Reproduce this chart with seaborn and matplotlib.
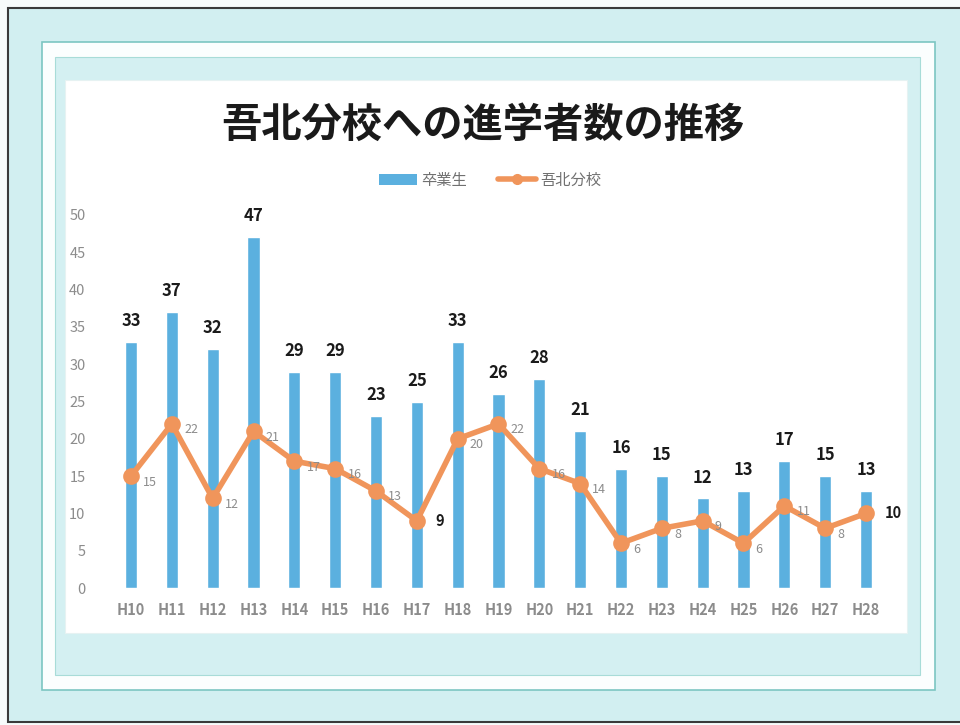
import matplotlib
matplotlib.use("Agg")
import matplotlib.pyplot as plt
from matplotlib.patches import Rectangle
from matplotlib.lines import Line2D
from matplotlib.patches import Patch
import seaborn as sns
import pandas as pd

# ---- data ----
years = ["H10", "H11", "H12", "H13", "H14", "H15", "H16", "H17", "H18", "H19",
         "H20", "H21", "H22", "H23", "H24", "H25", "H26", "H27", "H28"]
graduates = [33, 37, 32, 47, 29, 29, 23, 25, 33, 26, 28, 21, 16, 15, 12, 13, 17, 15, 13]
gohoku = [15, 22, 12, 21, 17, 16, 13, 9, 20, 22, 16, 14, 6, 8, 9, 6, 11, 8, 10]
bold_line_labels = ["H17", "H28"]
y_ticks = [0, 5, 10, 15, 20, 25, 30, 35, 40, 45, 50]
title = "吾北分校への進学者数の推移"
legend_labels = ["卒業生", "吾北分校"]

df = pd.DataFrame({"year": years, "grad": graduates, "gohoku": gohoku})

sns.set_theme(style="white")
FONT = ["Noto Sans CJK JP", "DejaVu Sans"]
plt.rcParams["font.family"] = FONT

BLUE = "#5bb0df"
ORANGE = "#f0955b"
GREY = "#8c8c8c"

W, H = 960, 725
fig = plt.figure(figsize=(9.6, 7.25), dpi=100)
fig.patch.set_facecolor("#f7fbfb")


def frect(x0, y0, x1, y1, fc, ec="none", lw=0):
    fig.patches.append(Rectangle((x0 / W, 1 - y1 / H), (x1 - x0) / W, (y1 - y0) / H,
                                 transform=fig.transFigure, facecolor=fc,
                                 edgecolor=ec, linewidth=lw, zorder=-10))


# frames (scanned pamphlet look)
frect(8, 8, 975, 722, "#d2eff1", ec="#3a3a3a", lw=1.5)
frect(42, 42, 935, 690, "#fbfefe", ec="#7cc6c2", lw=1.2)
frect(55, 57, 920, 675, "#d4f0f2", ec="#a8dcd8", lw=0.8)
frect(65, 80, 907, 633, "#ffffff", ec="#e6f2f2", lw=0.8)

ax = fig.add_axes([110.6 / W, 1 - 588 / H, 775.8 / W, 373 / H])
ax.set_facecolor("none")

sns.barplot(data=df, x="year", y="grad", color=BLUE, width=0.3,
            saturation=1, ax=ax, zorder=2)
sns.pointplot(data=df, x="year", y="gohoku", color=ORANGE, markers="o",
              markersize=9, linewidth=4, errorbar=None, ax=ax, zorder=3)

# bar labels
for i, v in enumerate(graduates):
    ax.text(i, v + 1.6, str(v), ha="center", va="bottom", fontsize=12,
            fontweight="bold", color="#1a1a1a", family=FONT)

# line labels
for i, (yr, v) in enumerate(zip(years, gohoku)):
    if yr in bold_line_labels:
        ax.text(i + 0.45, v, str(v), ha="left", va="center", fontsize=10.5,
                fontweight="bold", color="#1a1a1a", family=FONT)
    else:
        ax.text(i + 0.3, v - 0.8, str(v), ha="left", va="center", fontsize=9,
                color=GREY, family=FONT)

ax.set_ylim(0, 50)
ax.set_xlim(-0.5, len(years) - 0.5)
ax.set_yticks(y_ticks)
ax.set_yticklabels([str(t) for t in y_ticks], color=GREY, fontsize=10.5,
                   family=FONT)
ax.set_xticks(range(len(years)))
ax.set_xticklabels(years, color=GREY, fontsize=10.5, fontweight="bold",
                   family=FONT)
ax.tick_params(axis="y", length=0, pad=18)
ax.tick_params(axis="x", length=0, pad=10)
ax.set_xlabel("")
ax.set_ylabel("")
for s in ax.spines.values():
    s.set_visible(False)

fig.text(483 / W, 1 - 125 / H, title, ha="center", va="center",
         fontsize=29, fontweight="bold", color="#1a1a1a", family=FONT)

handles = [Patch(facecolor=BLUE, edgecolor="none"),
           Line2D([0], [0], color=ORANGE, lw=4, marker="o", markersize=7)]
fig.legend(handles, legend_labels, loc="center", bbox_to_anchor=(490 / W, 1 - 180 / H),
           ncol=2, frameon=False, prop={"family": FONT, "size": 11},
           labelcolor="#707070", handlelength=2.5, handletextpad=0.3,
           columnspacing=2.0)

fig.savefig("out.png", dpi=100)
